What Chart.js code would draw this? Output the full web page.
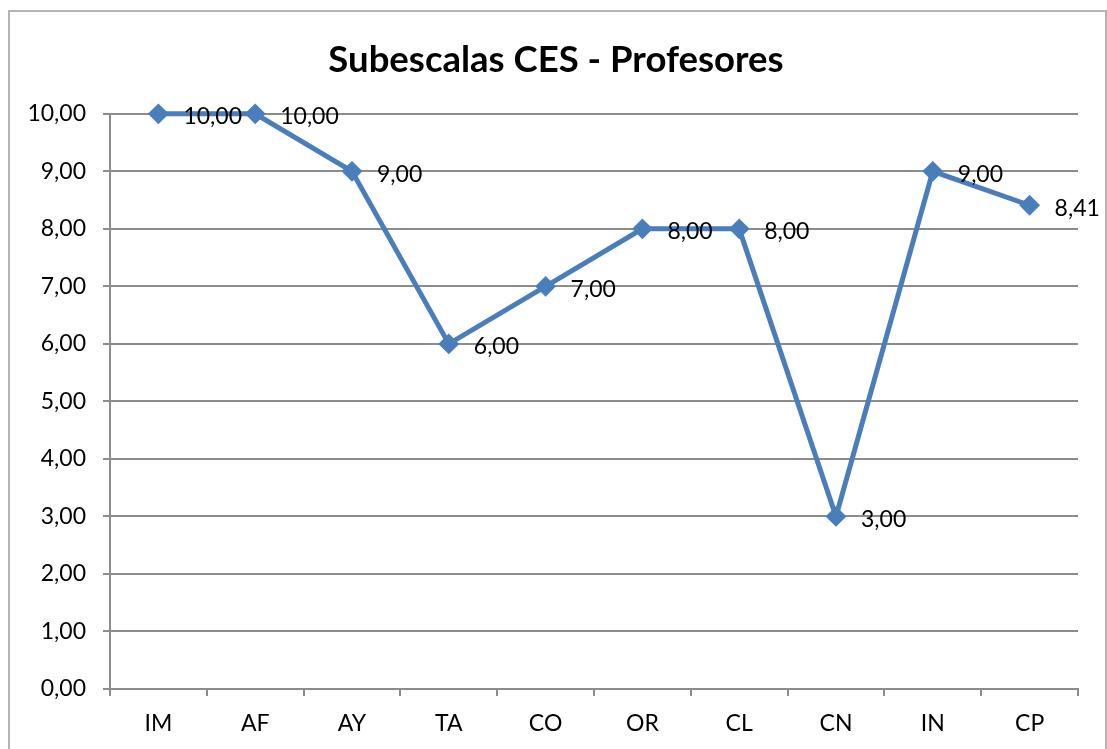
<!DOCTYPE html>
<html>
<head>
<meta charset="utf-8">
<script src="https://cdn.jsdelivr.net/npm/chart.js@4.4.1/dist/chart.umd.min.js"></script>
<style>
  body { margin: 0; background: #fff; }
  .wrap { position: relative; width: 1107px; height: 749px; }
  .frame { position: absolute; left: 8px; top: 10px; width: 1095px; height: 760px; border: 2px solid #b4b4b4; }
  canvas { position: absolute; left: 0; top: 0; }
</style>
</head>
<body>
<div class="wrap">
  <div class="frame"></div>
  <canvas class="myChart" width="1107" height="749"></canvas>
</div>
<script>
const categories = ['IM', 'AF', 'AY', 'TA', 'CO', 'OR', 'CL', 'CN', 'IN', 'CP'];
const values = [10, 10, 9, 6, 7, 8, 8, 3, 9, 8.41];
const yTicks = [0, 1, 2, 3, 4, 5, 6, 7, 8, 9, 10];
const titleText = 'Subescalas CES - Profesores';

const fmt = v => v.toFixed(2).replace('.', ',');
const FONT = 'Lato, "Open Sans", sans-serif';
const gridColor = '#8c8c8c';

// labels next to each point
const pointLabels = {
    id: 'pointLabels',
    afterDatasetsDraw(chart) {
        const ctx = chart.ctx;
        const meta = chart.getDatasetMeta(0);
        ctx.save();
        ctx.font = '23px ' + FONT;
        ctx.fillStyle = '#000';
        ctx.textAlign = 'left';
        ctx.textBaseline = 'middle';
        meta.data.forEach((pt, i) => {
            ctx.fillText(fmt(values[i]), pt.x + 25, pt.y + 3);
        });
        ctx.restore();
    }
};

// title sits a bit right of the canvas centre in the original
const shiftTitle = {
    id: 'shiftTitle',
    afterLayout(chart) {
        if (chart.titleBlock) chart.titleBlock.left = 34;
    }
};

const ctx = document.querySelector('.myChart').getContext('2d');
const myChart = new Chart(ctx, {
    type: 'line',
    data: {
        labels: categories,
        datasets: [{
            label: 'CES',
            data: values,
            borderColor: '#4a7ebb',
            backgroundColor: '#4a7ebb',
            borderWidth: 5,
            pointStyle: 'rectRot',
            pointRadius: 9,
            pointBorderWidth: 2,
            tension: 0,
            clip: false
        }]
    },
    options: {
        responsive: false,
        animation: false,
        layout: { padding: { left: 0, right: 29, top: 0, bottom: 0 } },
        plugins: {
            legend: { display: false },
            tooltip: { enabled: false },
            title: {
                display: true,
                text: titleText,
                color: '#000',
                font: { family: FONT, size: 36.5, weight: 'bold' },
                padding: { top: 38, bottom: 32 }
            }
        },
        scales: {
            x: {
                offset: true,
                grid: { display: true, drawOnChartArea: false, drawTicks: true, tickLength: 7, color: gridColor, lineWidth: 2, offset: true },
                border: { display: true, color: gridColor, width: 2 },
                ticks: { color: '#000', font: { family: FONT, size: 23 }, padding: 14, maxRotation: 0 },
                afterFit(scale) { scale.height = 60; }
            },
            y: {
                min: 0,
                max: 10,
                afterBuildTicks(scale) { scale.ticks = yTicks.map(v => ({ value: v })); },
                grid: { color: gridColor, lineWidth: 2, tickLength: 7 },
                border: { display: true, color: gridColor, width: 2 },
                ticks: { color: '#000', font: { family: FONT, size: 23 }, padding: 17, callback: v => fmt(v) },
                afterFit(scale) { scale.width = 110; }
            }
        }
    },
    plugins: [pointLabels, shiftTitle]
});
</script>
</body>
</html>
